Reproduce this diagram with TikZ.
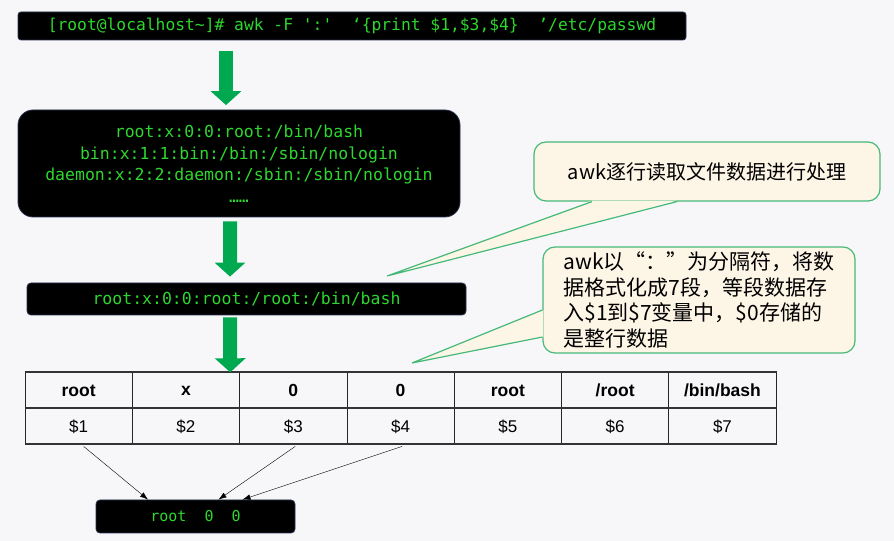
\documentclass[tikz,border=0pt]{standalone}
\usepackage{fontspec}
\setmainfont{Liberation Sans}
\setmonofont{DejaVu Sans Mono}
\newfontfamily\cjkfont{Noto Sans CJK SC}
\usetikzlibrary{arrows.meta}

\definecolor{termgreen}{RGB}{45,215,45}
\definecolor{flowgreen}{RGB}{0,168,80}
\definecolor{notefill}{RGB}{253,245,230}
\definecolor{noteedge}{RGB}{70,185,120}
\definecolor{boxedge}{RGB}{40,50,80}
\definecolor{paper}{RGB}{247,247,249}

\begin{document}
\begin{tikzpicture}[>={Latex[length=8bp,width=5.5bp]},line join=bevel,
  term/.style={fill=black,draw=boxedge,line width=0.8bp,text=termgreen,inner sep=0pt,
    font=\ttfamily\fontsize{16.5bp}{21.5bp}\selectfont},
  note/.style={fill=notefill,draw=noteedge,line width=1.2bp,rounded corners=12bp,inner sep=0pt,
    font=\cjkfont\fontsize{20bp}{25.5bp}\selectfont},
  pointer/.style={draw=noteedge,line width=1.2bp,line join=miter},
  flow/.style={flowgreen,line width=14bp,-{Triangle[width=30bp,length=14bp]}},
  cell/.style={draw=black!85,line width=0.8bp,inner sep=0pt,minimum width=107.3bp},
  head/.style={cell,minimum height=36bp,font=\bfseries\fontsize{17.5bp}{20bp}\selectfont},
  field/.style={cell,minimum height=35.3bp,font=\fontsize{17bp}{20bp}\selectfont},
  tabrule/.style={black!80,line width=2bp},
]
%%
\useasboundingbox (0bp,0bp) rectangle (894bp,541bp);
\fill [paper] (0bp,0bp) rectangle (894bp,541bp);
\node (node_cmd) at (352bp,515bp) [term,rounded corners=3bp,minimum width=668bp,minimum height=28bp,
  font=\ttfamily\fontsize{16.3bp}{20bp}\selectfont]
  {[root@localhost\textasciitilde]\# awk -F ':'\ \ ‘\{print \$1,\$3,\$4\}\ \ ’/etc/passwd};
  \node (node_file) at (239bp,377.5bp) [term,rounded corners=15bp,minimum width=442bp,minimum height=107bp,align=center]
  {root:x:0:0:root:/bin/bash\\bin:x:1:1:bin:/bin:/sbin/nologin\\daemon:x:2:2:daemon:/sbin:/sbin/nologin\\……};
  \node (node_line) at (246.5bp,242bp) [term,rounded corners=4bp,minimum width=439bp,minimum height=32bp]
  {root:x:0:0:root:/root:/bin/bash};
  \node (node_out) at (195.5bp,24.5bp) [term,rounded corners=4bp,minimum width=199bp,minimum height=33bp,
  font=\ttfamily\fontsize{15bp}{18bp}\selectfont] {root\ \ 0\ \ 0};
  \node (node_h1) at (78.65bp,150.3bp) [head] {root};
  \node (node_h2) at (185.95bp,150.3bp) [head] {x};
  \node (node_h3) at (293.25bp,150.3bp) [head] {0};
  \node (node_h4) at (400.55bp,150.3bp) [head] {0};
  \node (node_h5) at (507.85bp,150.3bp) [head] {root};
  \node (node_h6) at (615.15bp,150.3bp) [head] {/root};
  \node (node_h7) at (722.45bp,150.3bp) [head] {/bin/bash};
  \node (node_v1) at (78.65bp,114.65bp) [field] {\$1};
  \node (node_v2) at (185.95bp,114.65bp) [field] {\$2};
  \node (node_v3) at (293.25bp,114.65bp) [field] {\$3};
  \node (node_v4) at (400.55bp,114.65bp) [field] {\$4};
  \node (node_v5) at (507.85bp,114.65bp) [field] {\$5};
  \node (node_v6) at (615.15bp,114.65bp) [field] {\$6};
  \node (node_v7) at (722.45bp,114.65bp) [field] {\$7};
  \draw [tabrule] (node_h1.north west) -- (node_h7.north east);
  \draw [tabrule] (node_v1.north west) -- (node_v7.north east);
  \draw [tabrule] (node_v1.south west) -- (node_v7.south east);
  \node (note_read) at (707bp,369.5bp) [note,minimum width=346bp,minimum height=59bp] {awk逐行读取文件数据进行处理};
  \node (note_split) at (699bp,241bp) [note,minimum width=312bp,minimum height=106bp,align=left,
  font=\cjkfont\fontsize{21bp}{25.5bp}\selectfont]
  {awk以“：”为分隔符，将数\\据格式化成7段，等段数据存\\入\$1到\$7变量中，\$0存储的\\是整行数据};
  \coordinate (tip_read) at (387bp,265bp);
  \coordinate (tip_split) at (412bp,178bp);
  \fill [notefill] ([xshift=-115bp,yshift=1bp]note_read.south) -- (tip_read) -- ([xshift=-30bp,yshift=1bp]note_read.south) -- cycle;
  \draw [pointer] ([xshift=-115bp]note_read.south) -- (tip_read) -- ([xshift=-30bp]note_read.south);
  \fill [notefill] ([xshift=1bp,yshift=-10bp]note_split.west) -- (tip_split) -- ([xshift=1bp,yshift=-37bp]note_split.west) -- cycle;
  \draw [pointer] ([yshift=-10bp]note_split.west) -- (tip_split) -- ([yshift=-37bp]note_split.west);
  \draw [flow] ([xshift=-126bp,yshift=-11bp]node_cmd.south) -- ([xshift=-13bp,yshift=4.5bp]node_file.north);
  \draw [flow] ([xshift=-9bp,yshift=-4bp]node_file.south) -- ([xshift=-16.5bp,yshift=6bp]node_line.north);
  \draw [flow] ([xshift=-16.5bp,yshift=-2bp]node_line.south) -- ([xshift=-63bp]node_h3.north);
  \draw [black,->] ([xshift=5bp,yshift=-2bp]node_v1.south) -- ([xshift=-47.5bp]node_out.north);
  \draw [black,->] ([xshift=2bp,yshift=-2bp]node_v3.south) -- ([xshift=23bp]node_out.north);
  \draw [black,->] ([xshift=1.5bp,yshift=-2bp]node_v4.south) -- ([xshift=47bp]node_out.north);
%
\end{tikzpicture}
\end{document}
